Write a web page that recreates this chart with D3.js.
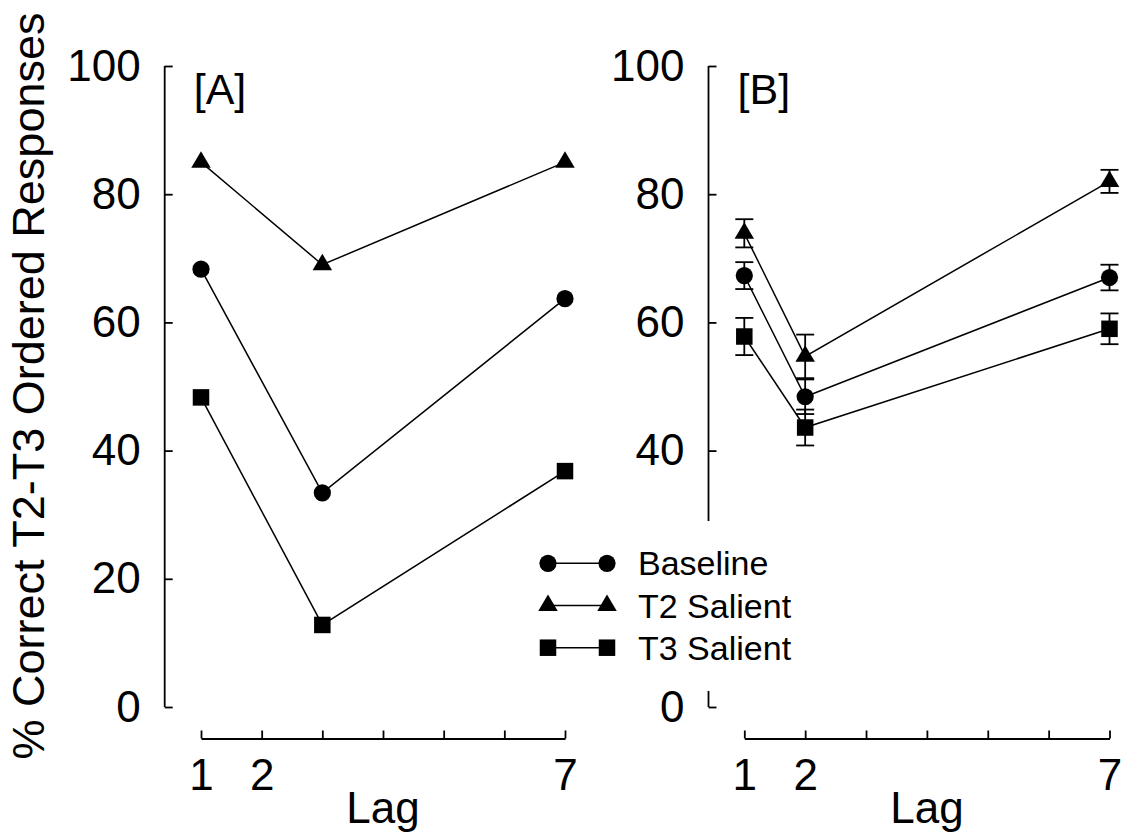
<!DOCTYPE html>
<html>
<head>
<meta charset="utf-8">
<script src="https://cdn.jsdelivr.net/npm/d3@7"></script>
<style>
  html, body { margin: 0; padding: 0; background: #fff; }
  svg { display: block; }
  text { font-family: "Liberation Sans", Arial, sans-serif; fill: #000; }
</style>
</head>
<body>
<svg id="chart" width="1131" height="835"></svg>
<script>
// Lag positions for each panel
const lagTicks = [1, 2, 3, 4, 5, 6, 7];
const lagTickLabels = ["1", "2", "", "", "", "", "7"];
const lagsA = [1, 3, 7];
const lagsB = [1, 2, 7];

// Panel A: percent correct ordered responses
const baselineA = [68.3, 33.4, 63.7];
const t2SalientA = [85.0, 69.0, 85.0];
const t3SalientA = [48.3, 12.8, 36.8];

// Panel B: means with standard errors
const baselineB = [67.3, 48.4, 67.0];
const baselineErrB = [2.1, 2.7, 2.0];
const t2SalientB = [73.9, 54.7, 82.0];
const t2SalientErrB = [2.2, 3.4, 1.8];
const t3SalientB = [57.8, 43.6, 59.0];
const t3SalientErrB = [2.9, 2.8, 2.4];

const yTicksA = [0, 20, 40, 60, 80, 100];
const yTicksB = [0, 40, 60, 80, 100];
const yBreakB = [29, 2.5];   // panel B axis is interrupted between these values

const seriesNames = ["Baseline", "T2 Salient", "T3 Salient"];
const seriesShapes = ["circle", "triangle", "square"];

const svg = d3.select("#chart");
const y = d3.scaleLinear().domain([0, 100]).range([707, 66]);

const panels = [
  { label: "[A]", axisX: 164.7, xRange: [201, 565], lags: lagsA,
    series: [baselineA, t2SalientA, t3SalientA], errs: null,
    yTicks: yTicksA, broken: false },
  { label: "[B]", axisX: 708.5, xRange: [744.3, 1109.5], lags: lagsB,
    series: [baselineB, t2SalientB, t3SalientB],
    errs: [baselineErrB, t2SalientErrB, t3SalientErrB],
    yTicks: yTicksB, broken: true }
];

function drawMarker(g, shape, cx, cy) {
  if (shape === "circle") {
    g.append("circle").attr("cx", cx).attr("cy", cy).attr("r", 8.6).attr("fill", "#000");
  } else if (shape === "square") {
    const s = 16.5;
    g.append("rect").attr("x", cx - s / 2).attr("y", cy - s / 2)
      .attr("width", s).attr("height", s).attr("fill", "#000");
  } else {
    const w = 19.5, h = 16.5;
    g.append("path")
      .attr("d", `M${cx},${cy - 2 * h / 3}L${cx + w / 2},${cy + h / 3}L${cx - w / 2},${cy + h / 3}Z`)
      .attr("fill", "#000");
  }
}

const axisStroke = 1.8;

panels.forEach(p => {
  const x = d3.scaleLinear().domain([1, 7]).range(p.xRange);
  const g = svg.append("g");

  // y axis
  const yAxis = d3.axisLeft(y).tickValues(p.yTicks).tickSize(-8).tickPadding(24)
    .tickFormat(d3.format("d"));
  const ya = g.append("g").attr("transform", `translate(${p.axisX},0)`).call(yAxis);
  ya.selectAll("text").style("font-size", "44px").attr("font-family", null);
  ya.selectAll("line").attr("stroke-width", axisStroke);
  ya.select(".domain").remove();
  if (p.broken) {
    [[100, yBreakB[0]], [yBreakB[1], 0]].forEach(([a, b]) => {
      ya.append("line").attr("x1", 0).attr("x2", 0)
        .attr("y1", y(a)).attr("y2", y(b))
        .attr("stroke", "#000").attr("stroke-width", axisStroke);
    });
  } else {
    ya.append("line").attr("x1", 0).attr("x2", 0)
      .attr("y1", y(100)).attr("y2", y(0))
      .attr("stroke", "#000").attr("stroke-width", axisStroke);
  }

  // x axis
  const xAxis = d3.axisBottom(x).tickValues(lagTicks).tickSize(-8).tickSizeOuter(0)
    .tickPadding(20).tickFormat((d, i) => lagTickLabels[i]);
  const xa = g.append("g").attr("transform", "translate(0,738.5)").call(xAxis);
  xa.selectAll("text").style("font-size", "44px").attr("font-family", null);
  xa.selectAll("line").attr("stroke-width", axisStroke);
  xa.select(".domain").attr("stroke-width", axisStroke);

  g.append("text").attr("x", (p.xRange[0] + p.xRange[1]) / 2).attr("y", 823)
    .attr("text-anchor", "middle").style("font-size", "44px").text("Lag");

  g.append("text").attr("x", p.axisX + 29).attr("y", 104)
    .style("font-size", "43px").text(p.label);

  // series lines
  p.series.forEach((vals, si) => {
    const pts = vals.map((v, i) => [x(p.lags[i]), y(v)]);
    g.append("path").attr("d", d3.line()(pts))
      .attr("fill", "none").attr("stroke", "#000").attr("stroke-width", 1.5);
  });

  // error bars
  if (p.errs) {
    p.series.forEach((vals, si) => {
      vals.forEach((v, i) => {
        const cx = x(p.lags[i]);
        const e = p.errs[si][i];
        const top = y(v + e), bot = y(v - e);
        const eb = g.append("g").attr("stroke", "#000").attr("stroke-width", 1.8);
        eb.append("line").attr("x1", cx).attr("x2", cx).attr("y1", top).attr("y2", bot);
        eb.append("line").attr("x1", cx - 9).attr("x2", cx + 9).attr("y1", top).attr("y2", top);
        eb.append("line").attr("x1", cx - 9).attr("x2", cx + 9).attr("y1", bot).attr("y2", bot);
      });
    });
  }

  // markers
  p.series.forEach((vals, si) => {
    vals.forEach((v, i) => drawMarker(g, seriesShapes[si], x(p.lags[i]), y(v)));
  });
});

// shared y-axis title
svg.append("text")
  .attr("transform", "translate(44,386) rotate(-90)")
  .attr("text-anchor", "middle")
  .style("font-size", "45px")
  .text("% Correct T2-T3 Ordered Responses");

// legend
const legend = svg.append("g");
const legendRows = [563.3, 605.5, 647.7];
seriesNames.forEach((name, i) => {
  const ry = legendRows[i];
  legend.append("line").attr("x1", 548).attr("x2", 607).attr("y1", ry).attr("y2", ry)
    .attr("stroke", "#000").attr("stroke-width", 1.5);
  drawMarker(legend, seriesShapes[i], 548, ry);
  drawMarker(legend, seriesShapes[i], 607, ry);
  legend.append("text").attr("x", 638).attr("y", ry + 12)
    .style("font-size", "34px").text(name);
});
</script>
</body>
</html>
